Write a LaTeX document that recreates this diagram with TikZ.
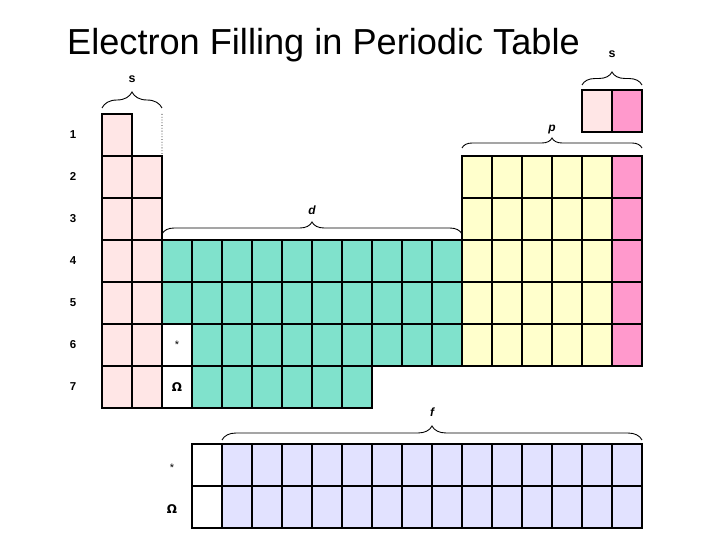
\documentclass[tikz,border=0pt]{standalone}
\usepackage{fontspec}
\setmainfont{Liberation Sans}
\newfontfamily\symfont{DejaVu Sans}
\usetikzlibrary{positioning, decorations.pathreplacing}

\definecolor{sPink}{RGB}{255,230,230}
\definecolor{sRose}{RGB}{255,153,204}
\definecolor{dTeal}{RGB}{128,226,204}
\definecolor{pYellow}{RGB}{255,255,204}
\definecolor{fLilac}{RGB}{226,226,255}

\begin{document}
\begin{tikzpicture}[
  x=1bp, y=-1bp,
  cell/.style={draw, line width=1.2pt, minimum width=30bp, minimum height=42bp,
               inner sep=0pt, outer sep=0pt, font=\fontsize{11}{13}\selectfont},
  rowlbl/.style={font=\bfseries\fontsize{11.5}{13}\selectfont},
  blk/.style={font=\bfseries\itshape\fontsize{12}{14}\selectfont, inner sep=0pt},
  brc/.style={decorate, line width=0.9pt},
  omega/.style={font=\symfont\bfseries\fontsize{12}{14}\selectfont}
]
\useasboundingbox (0,0) rectangle (720,540);

% title
\node[anchor=base west, inner sep=0pt, font=\fontsize{36.3}{42}\selectfont] (title) at (67,55)
  {Electron Filling in Periodic Table};

% period numbers
\foreach \r in {1,...,7}
  \node[rowlbl] (n\r) at (73,93+42*\r) {\r};

% s block
\node[cell, fill=sPink] (c-1-1) at (117,135) {};
\foreach \r in {2,...,7}
  \foreach \c in {1,2}
    \node[cell, fill=sPink] (c-\r-\c) at (87+30*\c,93+42*\r) {};
\node[cell, fill=sPink] (he-1) at (597,111) {};
\node[cell, fill=sRose] (he-2) at (627,111) {};
\coordinate (sEdge) at ([xshift=30bp]c-1-1.north east);
\draw[dotted, line width=0.8pt] (sEdge) -- (c-2-2.north east);

% p block
\foreach \r in {2,...,6} {
  \foreach \c in {13,...,17}
    \node[cell, fill=pYellow] (c-\r-\c) at (87+30*\c,93+42*\r) {};
  \node[cell, fill=sRose] (c-\r-18) at (627,93+42*\r) {};
}

% d block
\foreach \r in {4,5}
  \foreach \c in {3,...,12}
    \node[cell, fill=dTeal] (c-\r-\c) at (87+30*\c,93+42*\r) {};
\node[cell, fill=white] (c-6-3) at (177,345) {*};
\foreach \c in {4,...,12}
  \node[cell, fill=dTeal] (c-6-\c) at (87+30*\c,345) {};
\node[cell, fill=white, omega] (c-7-3) at (177,387) {Ω};
\foreach \c in {4,...,9}
  \node[cell, fill=dTeal] (c-7-\c) at (87+30*\c,387) {};

% f block
\foreach \r/\y in {1/465,2/507} {
  \node[cell, fill=white] (f-\r-4) at (207,\y) {};
  \foreach \c in {5,...,18}
    \node[cell, fill=fLilac] (f-\r-\c) at (87+30*\c,\y) {};
}
\node[font=\fontsize{11}{13}\selectfont] (fstar) at (172,468) {*};
\node[omega] (fomega) at (172,509) {Ω};

% braces
\draw[brc, decoration={brace, amplitude=16bp}]
  ([yshift=6bp]c-1-1.north west) -- ([yshift=6bp]sEdge)
  node[midway, anchor=base, yshift=25bp, blk, font=\bfseries\fontsize{12.5}{14}\selectfont] (lblS) {s};
\draw[brc, decoration={brace, amplitude=13bp}]
  ([yshift=5bp]he-1.north west) -- ([yshift=5bp]he-2.north east)
  node[midway, anchor=base, yshift=27bp, blk, font=\bfseries\fontsize{12.5}{14}\selectfont] (lblHe) {s};
\draw[brc, decoration={brace, amplitude=10bp}]
  ([yshift=8bp]c-2-13.north west) -- ([yshift=8bp]c-2-18.north east)
  node[midway, anchor=base, yshift=16bp, blk] (lblP) {p};
\draw[brc, decoration={brace, amplitude=12bp}]
  ([yshift=6bp]c-4-3.north west) -- ([yshift=6bp]c-4-12.north east)
  node[midway, anchor=base, yshift=19bp, blk] (lblD) {d};
\draw[brc, decoration={brace, amplitude=14bp}]
  ([yshift=4bp]f-1-5.north west) -- ([yshift=4bp]f-1-18.north east)
  node[midway, anchor=base, yshift=24bp, blk] (lblF) {f};
\end{tikzpicture}
\end{document}
